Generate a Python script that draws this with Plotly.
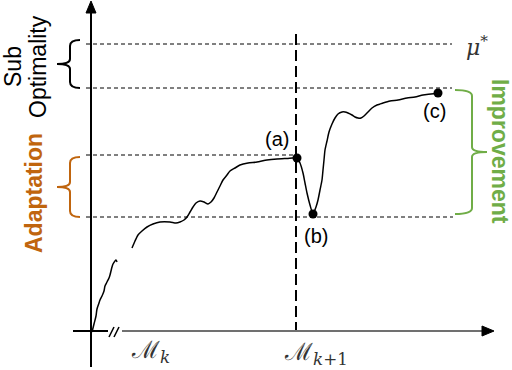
import plotly.graph_objects as go

# Diagram drawn in a 512x370 pixel-like coordinate frame (y grows downward)

# early learning segment (before the axis break)
early_x = [92, 94, 96, 97, 99, 100, 102, 104, 105, 107, 109, 110, 111, 112, 113, 115, 116, 117]
early_y = [332, 324, 316, 309, 303, 300, 296, 291, 286, 282, 278, 275, 271, 267, 264, 261, 260, 262]

# main learning curve: adaptation, model switch drop, improvement
curve_x = [132, 135, 138, 142, 147, 153, 160, 170, 176, 180, 184, 187, 190, 193, 196, 200,
           204, 208, 211, 214, 217, 220, 223, 227, 230, 235, 240, 248, 257, 267, 277, 287, 297,
           300, 303, 305, 307, 310, 313,
           316, 318, 320, 322, 323, 324, 325, 327, 329, 332, 335, 338, 342, 345, 348, 352, 355,
           358, 361, 364, 368, 372, 377, 383, 390, 398, 407, 415, 423, 431, 438]
curve_y = [248, 241, 235, 231, 227, 224, 222, 222, 223, 222, 220, 217, 212, 207, 203, 201,
           202, 204, 202, 198, 192, 186, 180, 175, 171, 168, 165, 163, 162, 160, 159, 158.5, 158,
           163, 173, 183, 193, 205, 214,
           207, 200, 190, 180, 170, 160, 150, 141, 132, 124, 118, 114, 112, 112, 113, 115, 117,
           118, 118, 116, 112, 108, 105, 103, 101, 100, 98, 97, 95, 94, 93]

# highlighted states (a), (b), (c)
point_labels = ["(a)", "(b)", "(c)"]
point_x = [297, 313, 438]
point_y = [158, 214, 93]
label_x = [277, 316, 434]
label_y = [139, 236, 111]

# reference levels: optimum, final, before switch, after drop
level_y = [44, 88, 155, 217]
level_x_end = [452, 452, 297, 453]

orange = "#C0650E"
green = "#70AD47"

fig = go.Figure()

fig.add_trace(go.Scatter(x=early_x, y=early_y, mode="lines",
                         line=dict(color="black", width=1.5, shape="spline"), hoverinfo="none"))
fig.add_trace(go.Scatter(x=curve_x, y=curve_y, mode="lines",
                         line=dict(color="black", width=1.5, shape="spline", smoothing=0.6),
                         hoverinfo="none"))
fig.add_trace(go.Scatter(x=point_x, y=point_y, mode="markers",
                         marker=dict(color="black", size=9), hoverinfo="none"))

shapes = []
# dashed reference levels
for ly, lx in zip(level_y, level_x_end):
    shapes.append(dict(type="line", x0=86, x1=lx, y0=ly, y1=ly,
                       line=dict(color="black", width=1, dash="4px,3px")))
# model switch marker
shapes.append(dict(type="line", x0=296, x1=296, y0=34, y1=331,
                   line=dict(color="black", width=2, dash="11px,5px")))
# y axis with arrow
shapes.append(dict(type="line", x0=91, x1=91, y0=367, y1=10, line=dict(color="black", width=2)))
shapes.append(dict(type="path", path="M 86 13 L 96 13 L 91 1 Z",
                   fillcolor="black", line=dict(color="black", width=1)))
# x axis with break and arrow
shapes.append(dict(type="line", x0=73, x1=108, y0=331, y1=331, line=dict(color="black", width=2)))
shapes.append(dict(type="line", x0=122, x1=484, y0=331, y1=331, line=dict(color="#707070", width=2)))
shapes.append(dict(type="path", path="M 482 326 L 482 336 L 494 331 Z",
                   fillcolor="black", line=dict(color="black", width=1)))
shapes.append(dict(type="line", x0=109, x1=114, y0=337, y1=327, line=dict(color="black", width=1.5)))
shapes.append(dict(type="line", x0=114, x1=119, y0=337, y1=327, line=dict(color="black", width=1.5)))


def brace_left(top, bot, xv=70, xe=80, tip=57, color="black"):
    mid = (top + bot) / 2
    return dict(type="path",
                path=(f"M {xe} {top} Q {xv} {top} {xv} {top + 6} L {xv} {mid - 5} "
                      f"Q {xv} {mid} {tip} {mid} Q {xv} {mid} {xv} {mid + 5} "
                      f"L {xv} {bot - 6} Q {xv} {bot} {xe} {bot}"),
                line=dict(color=color, width=2))


def brace_right(top, bot, xv=472, xe=455, tip=487, color="black"):
    mid = (top + bot) / 2
    return dict(type="path",
                path=(f"M {xe} {top} Q {xv} {top} {xv} {top + 6} L {xv} {mid - 5} "
                      f"Q {xv} {mid} {tip} {mid} Q {xv} {mid} {xv} {mid + 5} "
                      f"L {xv} {bot - 6} Q {xv} {bot} {xe} {bot}"),
                line=dict(color=color, width=2))


shapes.append(brace_left(40, 88))
shapes.append(brace_left(157, 217, color=orange))
shapes.append(brace_right(90, 214, color=green))

annotations = []
for t, x, y in zip(point_labels, label_x, label_y):
    annotations.append(dict(x=x, y=y, text=t, showarrow=False,
                            font=dict(family="Liberation Sans", size=20, color="black")))

annotations += [
    dict(x=13, y=67, text="Sub", textangle=-90, showarrow=False,
         font=dict(family="Liberation Sans", size=23, color="black")),
    dict(x=38, y=67, text="Optimality", textangle=-90, showarrow=False,
         font=dict(family="Liberation Sans", size=23, color="black")),
    dict(x=34, y=193, text="<b>Adaptation</b>", textangle=-90, showarrow=False,
         font=dict(family="Liberation Sans", size=23, color=orange)),
    dict(x=500, y=151, text="<b>Improvement</b>", textangle=90, showarrow=False,
         font=dict(family="Liberation Sans", size=23, color=green)),
    dict(x=477, y=46, text="<i>μ</i><sup>*</sup>", showarrow=False,
         font=dict(family="DejaVu Serif", size=22, color="#333333")),
    dict(x=150, y=351, text="ℳ<sub><i>k</i></sub>", showarrow=False,
         font=dict(family="DejaVu Serif", size=24, color="#333333")),
    dict(x=316, y=353, text="ℳ<sub><i>k</i>+1</sub>", showarrow=False,
         font=dict(family="DejaVu Serif", size=24, color="#333333")),
]

fig.update_layout(
    width=512, height=370,
    margin=dict(l=0, r=0, t=0, b=0),
    paper_bgcolor="white", plot_bgcolor="white",
    showlegend=False,
    xaxis=dict(range=[0, 512], visible=False, fixedrange=True),
    yaxis=dict(range=[370, 0], visible=False, fixedrange=True),
    shapes=shapes,
    annotations=annotations,
)

fig.write_html("out.html", config=dict(displayModeBar=False),
               post_script="document.body.style.margin='0';")
